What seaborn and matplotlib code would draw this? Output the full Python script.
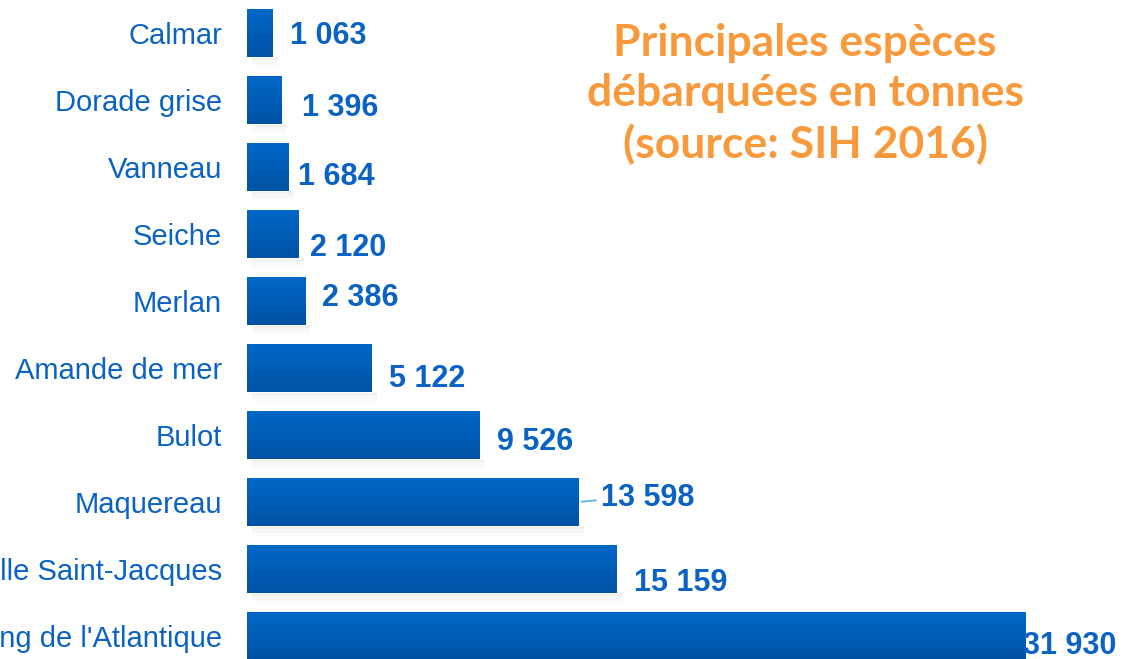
import numpy as np
import pandas as pd
import matplotlib
matplotlib.use("Agg")
import matplotlib.pyplot as plt
import seaborn as sns
from matplotlib.colors import LinearSegmentedColormap

# Données
especes = [
    "Calmar", "Dorade grise", "Vanneau", "Seiche", "Merlan",
    "Amande de mer", "Bulot", "Maquereau", "Coquille Saint-Jacques",
    "Hareng de l'Atlantique",
]
tonnes = [1063, 1396, 1684, 2120, 2386, 5122, 9526, 13598, 15159, 31930]
etiquettes = ["1 063", "1 396", "1 684", "2 120", "2 386",
              "5 122", "9 526", "13 598", "15 159", "31 930"]

# décalages des étiquettes (points) comme dans l'original
dx = [12, 15, 7, 8, 12, 12, 13, 16, 12, -2]
dy = [-2, -6, -7, -10, 2, -8, -5, 3, -10, -7]

BLEU = "#0a63c4"
ORANGE = "#f89a3c"

sns.set_theme(style="white")
plt.rcParams["font.family"] = ["Liberation Sans", "DejaVu Sans"]

df = pd.DataFrame({"espece": especes, "tonnes": tonnes})

fig = plt.figure(figsize=(11.24, 6.59), dpi=100)
ax = fig.add_axes([247 / 1124, 0, 877 / 1124, 1])

sns.barplot(data=df, x="tonnes", y="espece", orient="h", color=BLEU,
            width=0.72, ax=ax, saturation=1)

# dégradé + ombre sur chaque barre
cmap = LinearSegmentedColormap.from_list("grad", ["#0068c8", "#0052a3"])
grad = np.linspace(0, 1, 100).reshape(-1, 1)
for p in ax.patches:
    x0, y0 = p.get_x(), p.get_y()
    w, h = p.get_width(), p.get_height()
    for k, a in enumerate([0.06, 0.04, 0.025]):
        ax.add_patch(plt.Rectangle((x0 + 200, y0 + h), w, 0.05 + 0.05 * k,
                                   color="#808080", alpha=a, lw=0, zorder=1))
    im = ax.imshow(grad, cmap=cmap, aspect="auto",
                   extent=(x0, x0 + w, y0 + h, y0), zorder=3)
    im.set_clip_path(p)
    p.set_zorder(2)

ax.set_xlim(0, 31930 * 877 / 779)
ax.set_ylim((659 - 33) / 67, -33 / 67)

for i, (v, txt) in enumerate(zip(tonnes, etiquettes)):
    ax.annotate(txt, (v, i), xytext=(dx[i], dy[i]), textcoords="offset points",
                ha="left", va="center", fontsize=22, fontweight="bold",
                color=BLEU, zorder=5)

# trait de rappel du maquereau
ax.annotate("", (13598, 7), xytext=(13598 + 820, 7 - 0.03),
            arrowprops=dict(arrowstyle="-", color="#5ab0e0", lw=1.2))

ax.set_xlabel("")
ax.set_ylabel("")
ax.set_xticks([])
ax.tick_params(axis="y", length=0, pad=18, labelsize=21, labelcolor=BLEU)
sns.despine(ax=ax, left=True, bottom=True)

fig.text(805 / 1124, 1 - 94 / 659,
         "Principales espèces\ndébarquées en tonnes\n(source: SIH 2016)",
         ha="center", va="center", fontsize=32, fontweight="bold",
         color=ORANGE, family=["Lato", "DejaVu Sans"], linespacing=1.3)

fig.savefig("out.png", dpi=100)
